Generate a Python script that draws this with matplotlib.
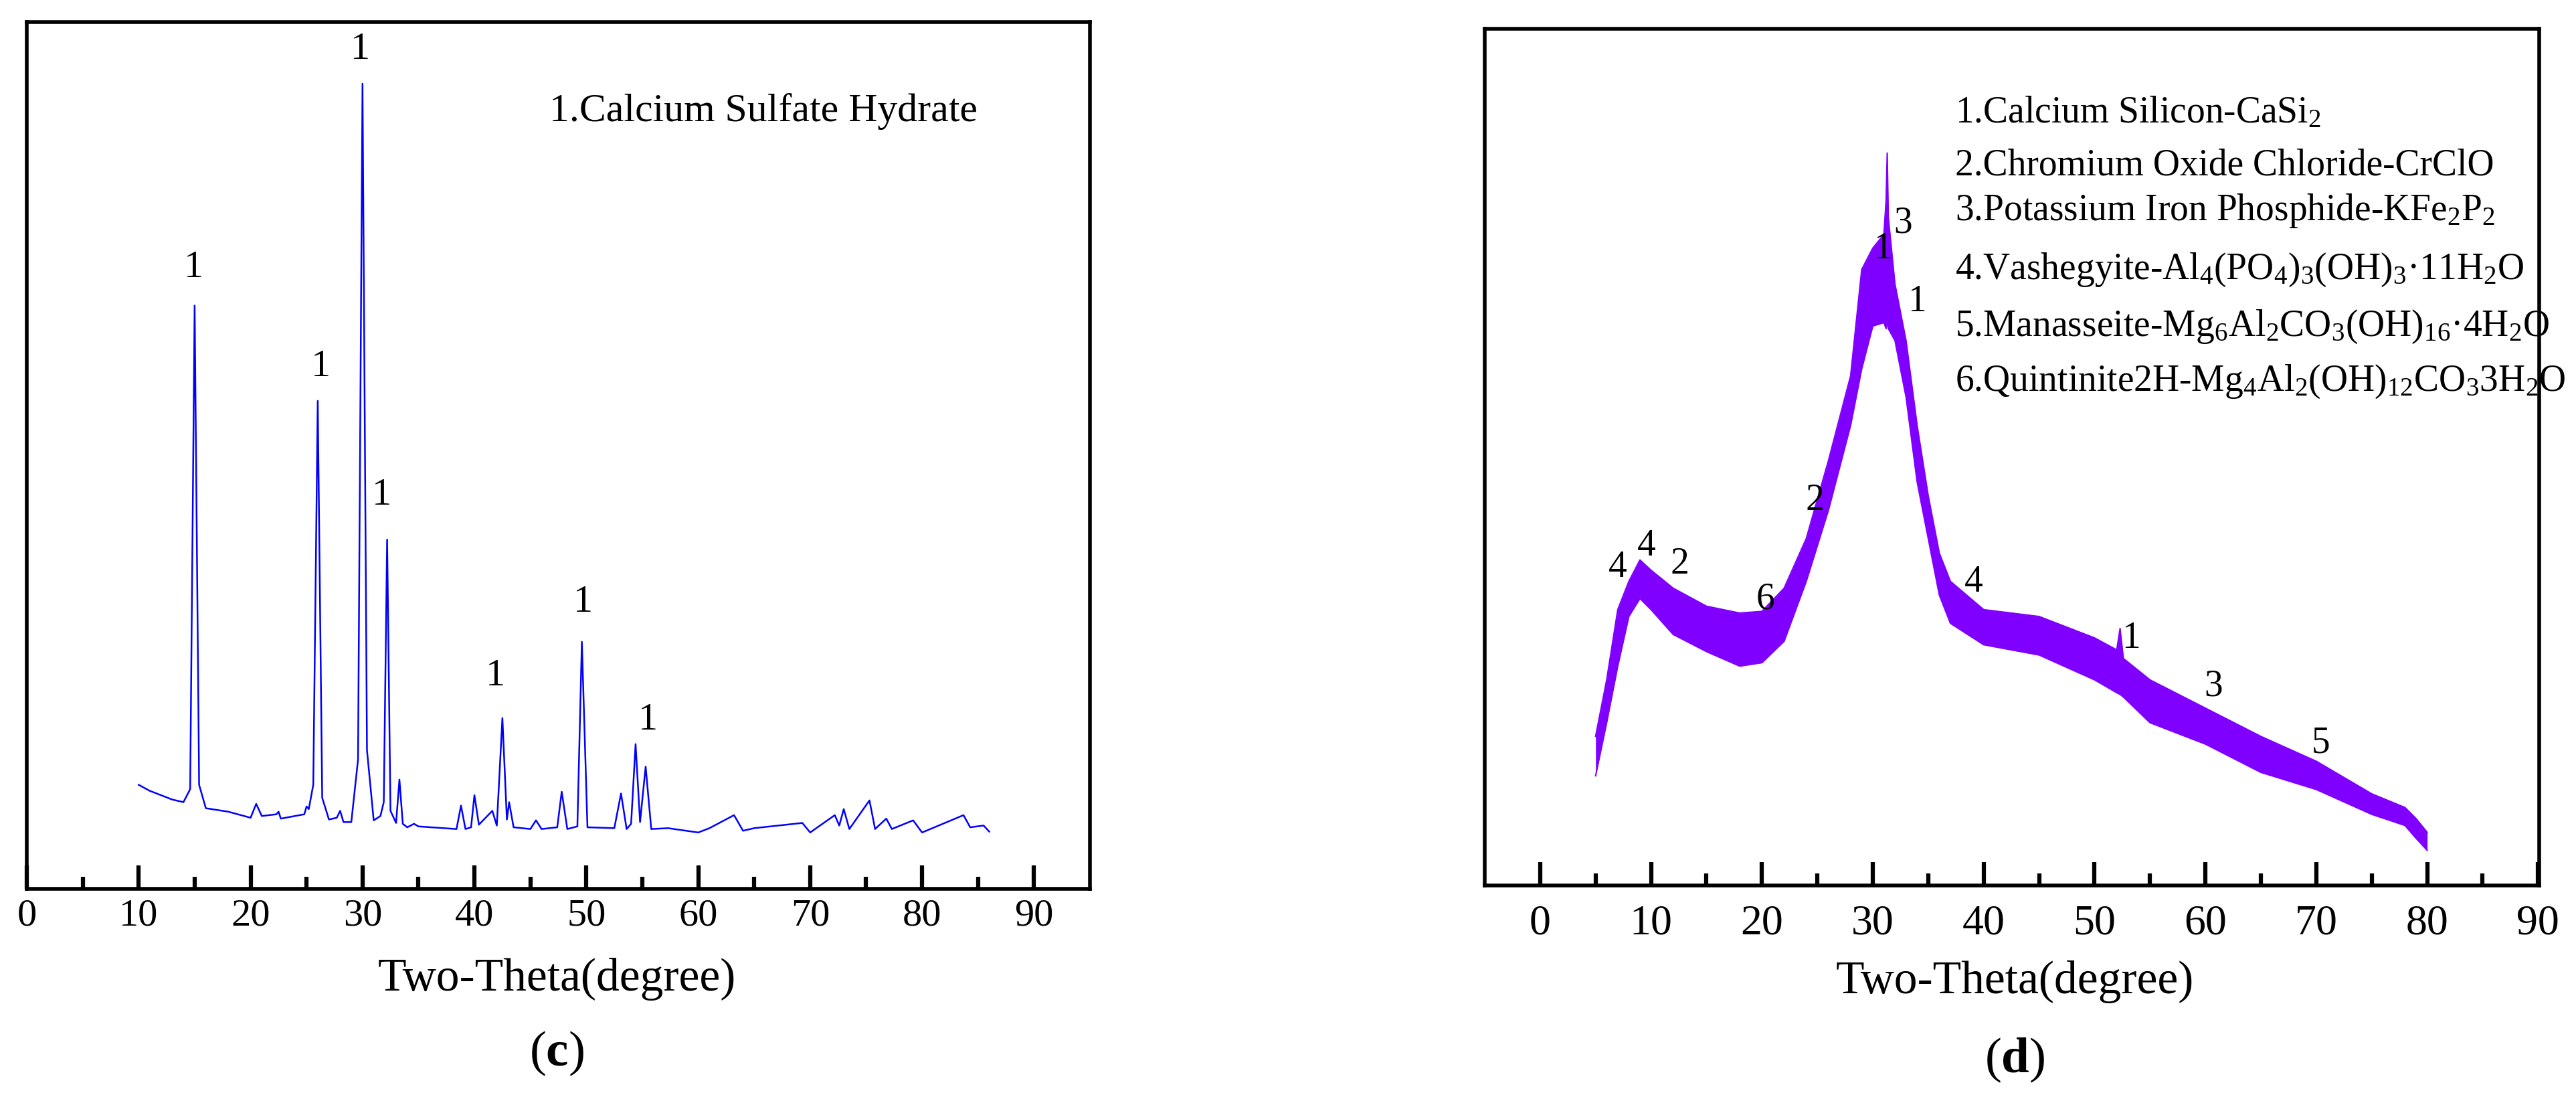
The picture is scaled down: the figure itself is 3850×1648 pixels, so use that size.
import matplotlib
matplotlib.use("Agg")
import matplotlib.pyplot as plt

plt.rcParams['font.family'] = ['Liberation Serif', 'DejaVu Serif']
plt.rcParams['mathtext.fontset'] = 'custom'
plt.rcParams['mathtext.rm'] = 'Liberation Serif'
plt.rcParams['mathtext.it'] = 'Liberation Serif:italic'
plt.rcParams['mathtext.bf'] = 'Liberation Serif:bold'

# ---- panel (c) trace: two-theta vs intensity (arb.) ----
c_x = [10, 11, 12, 13, 14, 14.6, 15.0, 15.4, 16, 18, 20, 20.5, 21, 22.3, 22.5, 22.7, 24.8, 25.0, 25.2, 25.6, 26.0, 26.4,
       27, 27.7, 28.0, 28.3, 29, 29.6, 30.0, 30.4, 31, 31.6, 31.9, 32.2, 32.5, 33.0, 33.3, 33.6, 34, 34.6, 35, 38.4,
       38.8, 39.2, 39.7, 40.0, 40.4, 41, 41.6, 42.0, 42.5, 42.9, 43.1, 43.5, 45, 45.5, 46, 47.4, 47.8, 48.3, 49.2,
       49.6, 50.1, 52.5, 53.1, 53.6, 54.0, 54.4, 54.8, 55.3, 55.8, 57.3, 60, 61, 63.2, 64, 65, 69.3, 70, 72.2, 72.6,
       73.0, 73.5, 75.3, 75.8, 76.8, 77.3, 79.2, 80, 83.7, 84.3, 85.5, 86]
c_y = [12.0, 11.3, 10.8, 10.3, 10.0, 11.5, 67.3, 12.0, 9.3, 8.9, 8.2, 9.8, 8.4, 8.6, 8.9, 8.1, 8.6, 9.5, 9.2, 12.0, 56.3, 10.5,
       8.0, 8.2, 9.0, 7.7, 7.7, 14.9, 92.9, 16.0, 7.9, 8.4, 10.0, 40.3, 9.0, 7.6, 12.6, 7.5, 7.1, 7.5, 7.2, 6.9,
       9.6, 6.9, 7.1, 10.8, 7.4, 8.2, 9.0, 7.3, 19.7, 8.0, 10.0, 7.1, 6.9, 7.9, 6.9, 7.1, 11.2, 6.9, 7.2,
       28.5, 7.1, 7.0, 11.0, 6.9, 7.5, 16.7, 7.7, 14.1, 6.9, 7.0, 6.5, 7.0, 8.5, 6.7, 7.0, 7.6, 6.5, 8.5, 7.3,
       9.2, 6.9, 10.2, 6.9, 8.1, 6.9, 7.9, 6.5, 8.5, 7.1, 7.3, 6.6]
c_lab_x = [14.9, 26.3, 29.8, 31.7, 41.9, 49.7, 55.5]
c_lab_y = [69.7, 58.3, 94.9, 43.5, 22.6, 31.1, 17.5]
c_lab_t = ['1'] * 7

# ---- panel (d) trace: noisy band, upper and lower envelopes ----
d_x = [5, 6, 7, 8, 9, 10, 12, 15, 18, 20, 22, 24, 26, 28, 29, 30, 31, 31.2, 31.3, 31.4, 32, 33, 34, 35, 36, 37,
       40, 45, 50, 52, 52.3, 52.6, 55, 60, 65, 70, 75, 78, 79, 80]
d_hi = [17.4, 24.0, 32.2, 35.5, 38.0, 36.8, 34.7, 32.6, 31.8, 32.0, 34.7, 40.5, 49.6, 59.5, 71.9, 74.4, 76.0, 80.0, 85.5,
        78.0, 70.2, 63.6, 53.7, 45.5, 38.8, 35.5, 32.2, 31.4, 28.9, 27.5, 30.0, 26.5, 24.0, 20.7, 17.4, 14.5, 10.7, 9.1,
        7.8, 6.2]
d_lo = [12.8, 19.0, 25.6, 31.4, 33.5, 32.2, 29.3, 27.3, 25.6, 26.0, 28.5, 35.5, 43.8, 53.7, 60.3, 65.3, 65.7, 65.0, 66.0,
        65.0, 63.6, 57.0, 47.1, 40.5, 33.9, 30.6, 28.1, 26.9, 24.0, 22.5, 22.3, 22.0, 19.0, 16.5, 13.2, 11.2, 8.3, 7.0,
        5.5, 4.1]
d_lab_x = [7.0, 9.6, 12.6, 20.3, 24.8, 30.9, 32.7, 34.0, 39.1, 53.3, 60.7, 70.4]
d_lab_y = [37.2, 39.7, 37.6, 33.5, 45.0, 74.4, 77.4, 68.2, 35.5, 28.9, 23.3, 16.7]
d_lab_t = ['4', '4', '2', '6', '2', '1', '3', '1', '4', '1', '3', '5']
d_legend = [r'1.Calcium Silicon-CaSi$_{\mathsf{2}}$',
            r'2.Chromium Oxide Chloride-CrClO',
            r'3.Potassium Iron Phosphide-KFe$_2$P$_2$',
            r'4.Vashegyite-Al$_4$(PO$_4$)$_3$(OH)$_3$·11H$_2$O',
            r'5.Manasseite-Mg$_6$Al$_2$CO$_3$(OH)$_{16}$·4H$_2$O',
            r'6.Quintinite2H-Mg$_4$Al$_2$(OH)$_{12}$CO$_3$3H$_2$O']
d_legend[0] = r'1.Calcium Silicon-CaSi$_2$'
d_legend_y = [90.2, 84.1, 78.8, 71.9, 65.3, 58.9]

W, H = 3850, 1649
fig = plt.figure(figsize=(W / 100, H / 100), dpi=100)

def ax_rect(l, r, t, b):
    return [l / W, 1 - b / H, (r - l) / W, (b - t) / H]

def style(ax, lim, tick_fs, pad):
    for s in ax.spines.values():
        s.set_linewidth(4)
    ax.set_xlim(*lim)
    ax.set_xticks(range(0, 91, 10))
    ax.set_xticks(range(5, 91, 10), minor=True)
    ax.tick_params(axis='x', which='major', direction='in', length=25, width=4.5, labelsize=tick_fs, pad=pad)
    ax.tick_params(axis='x', which='minor', direction='in', length=13, width=4.5)
    ax.set_yticks([])

ax1 = fig.add_axes(ax_rect(40, 1629, 34, 1329))
ax1.plot(c_x, c_y, color='#0000ff', lw=1.8)
style(ax1, (0, 95), 42, 10)
ax1.set_ylim(0, 100)
for x, y, t in zip(c_lab_x, c_lab_y, c_lab_t):
    ax1.text(x, y, t, fontsize=42, ha='center', va='bottom')
ax1.text(46.7, 89.8, '1.Calcium Sulfate Hydrate', fontsize=43, ha='left', va='center')
fig.text(832 / W, 1 - 1463 / H, 'Two-Theta(degree)', fontsize=50, ha='center', va='center')
fig.text(832 / W, 1 - 1574 / H, r'($\mathbf{c}$)', fontsize=54, ha='center', va='center')

ax2 = fig.add_axes(ax_rect(2219, 3795, 44, 1324))
ax2.fill_between(d_x, d_lo, d_hi, color='#8000ff', lw=0)
ax2.plot(d_x, d_hi, color='#8000ff', lw=1.5)
ax2.plot(d_x, d_lo, color='#8000ff', lw=1.5)
style(ax2, (-5, 90.1), 46, 20)
ax2.set_ylim(0, 100)
for x, y, t in zip(d_lab_x, d_lab_y, d_lab_t):
    ax2.text(x, y, t, fontsize=40, ha='center', va='center')
for y, t in zip(d_legend_y, d_legend):
    ax2.text(37.4, y, t, fontsize=40, ha='left', va='center')
fig.text(3011 / W, 1 - 1467 / H, 'Two-Theta(degree)', fontsize=50, ha='center', va='center')
fig.text(3011 / W, 1 - 1584 / H, r'($\mathbf{d}$)', fontsize=54, ha='center', va='center')

fig.savefig('out.png', dpi=100)
